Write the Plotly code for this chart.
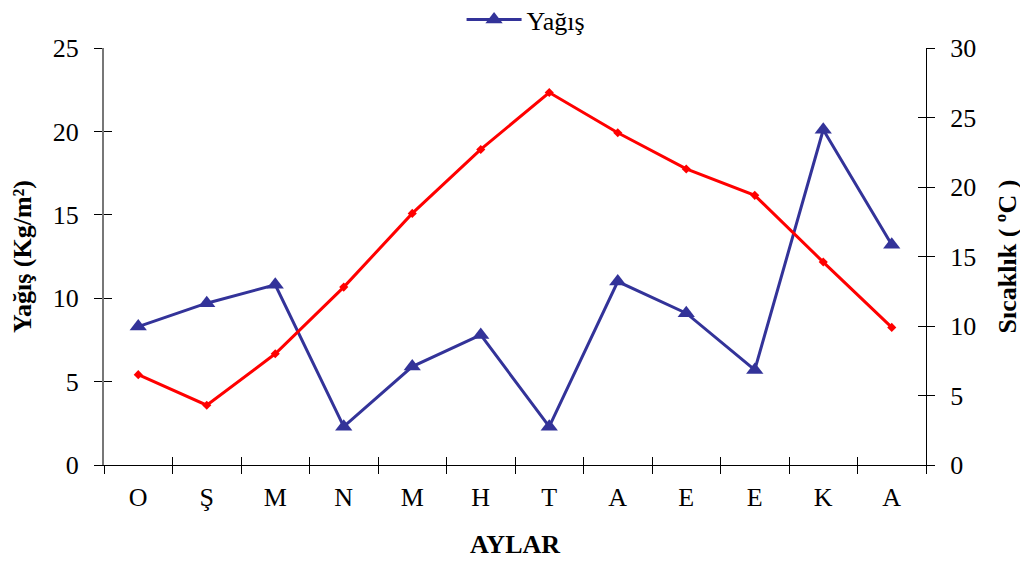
import plotly.graph_objects as go

months = ["O", "Ş", "M", "N", "M", "H", "T", "A", "E", "E", "K", "A"]
rain = [8.3, 9.7, 10.8, 2.3, 5.9, 7.8, 2.3, 11.0, 9.1, 5.7, 20.1, 13.2]
temp = [6.5, 4.3, 8.0, 12.8, 18.1, 22.7, 26.8, 23.9, 21.3, 19.4, 14.6, 9.9]
rain_ticks = [0, 5, 10, 15, 20, 25]
temp_ticks = [0, 5, 10, 15, 20, 25, 30]

x = list(range(len(months)))
FONT = "Liberation Serif"

fig = go.Figure()
fig.add_trace(go.Scatter(
    x=x, y=rain, name="Yağış", mode="lines+markers",
    line=dict(color="#333399", width=3),
    marker=dict(symbol="triangle-up", size=15, color="#333399"),
    xaxis="x", yaxis="y"))
fig.add_trace(go.Scatter(
    x=x, y=temp, name="Sıcaklık", mode="lines+markers", showlegend=False,
    line=dict(color="#ff0000", width=3),
    marker=dict(symbol="diamond", size=7, color="#ff0000"),
    xaxis="x", yaxis="y2"))

tickfont = dict(family=FONT, size=26, color="black")
titlefont = dict(family=FONT, size=26, color="black")
# page body has an 8px default margin; margins compensate for it
fig.update_layout(
    width=1028, height=563,
    margin=dict(l=96, r=110, t=40, b=106, autoexpand=False),
    paper_bgcolor="white", plot_bgcolor="white",
    font=dict(family=FONT, color="black"),
    showlegend=True,
    legend=dict(orientation="h", x=0.435, xanchor="left", y=1.068, yanchor="middle",
                itemwidth=55, font=dict(family=FONT, size=26, color="black")),
    xaxis=dict(
        range=[-0.5, len(months) - 0.5], tickmode="array", tickvals=x,
        ticktext=months, showgrid=False, zeroline=False,
        showline=True, linecolor="black", linewidth=1,
        ticks="", tickfont=tickfont, ticklabelstandoff=9,
        title=dict(text="<b>AYLAR</b>", font=titlefont, standoff=23)),
    xaxis2=dict(
        overlaying="x", range=[-0.5, len(months) - 0.5], tickmode="array",
        tickvals=[i + 0.5 for i in range(-1, len(months))], showticklabels=False,
        ticks="outside", ticklen=8, tickcolor="black", showgrid=False, zeroline=False,
        showline=False, side="bottom", anchor="y"),
    xaxis3=dict(
        overlaying="x", range=[-0.5, len(months) - 0.5], tickmode="array",
        tickvals=[i + 0.5 for i in range(-1, len(months))], showticklabels=False,
        ticks="inside", ticklen=8, tickcolor="black", showgrid=False, zeroline=False,
        showline=False, side="bottom", anchor="y"),
    yaxis=dict(
        range=[0, 25], tickmode="array", tickvals=rain_ticks, showgrid=False,
        zeroline=False, showline=True, linecolor="#777777", linewidth=2,
        ticks="outside", ticklen=8, tickcolor="black", tickfont=tickfont,
        ticklabelstandoff=10,
        title=dict(text="<b>Yağış (Kg/m²)</b>", font=titlefont, standoff=14)),
    yaxis2=dict(
        range=[0, 30], tickmode="array", tickvals=temp_ticks, showgrid=False,
        zeroline=False, showline=True, linecolor="black", linewidth=1,
        overlaying="y", side="right", anchor="x",
        ticks="outside", ticklen=8, tickcolor="black", tickfont=tickfont,
        ticklabelstandoff=10,
        title=dict(text="<b>Sıcaklık ( ºC )</b>", font=titlefont, standoff=22)),
    yaxis3=dict(
        range=[0, 25], tickmode="array", tickvals=rain_ticks, showgrid=False,
        zeroline=False, showline=False, overlaying="y", side="left", anchor="x",
        ticks="inside", ticklen=8, tickcolor="black", showticklabels=False),
    yaxis4=dict(
        range=[0, 30], tickmode="array", tickvals=temp_ticks, showgrid=False,
        zeroline=False, showline=False, overlaying="y", side="right", anchor="x",
        ticks="inside", ticklen=8, tickcolor="black", showticklabels=False),
)
# invisible traces to activate helper axes
for xa, ya in [("x2", "y"), ("x3", "y"), ("x", "y3"), ("x", "y4")]:
    fig.add_trace(go.Scatter(x=[None], y=[None], xaxis=xa, yaxis=ya,
                             showlegend=False, hoverinfo="skip"))

fig.write_html("out.html")
